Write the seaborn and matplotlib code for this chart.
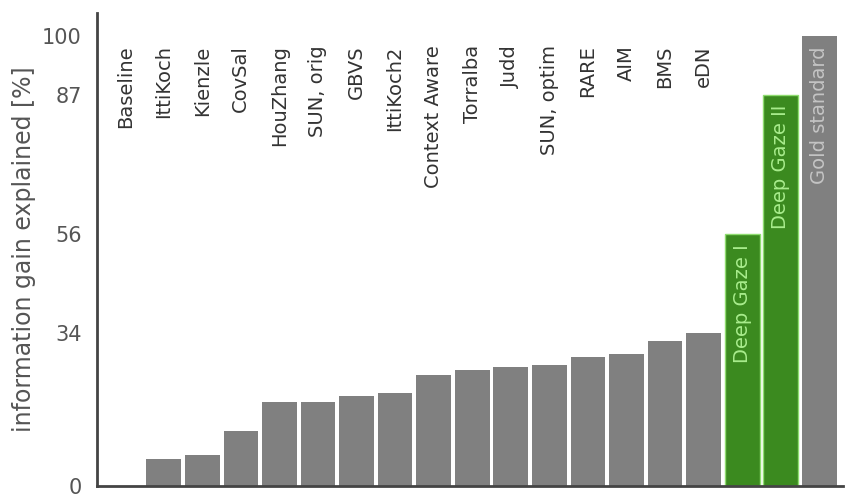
import matplotlib
matplotlib.use("Agg")
import matplotlib.pyplot as plt
import seaborn as sns
import pandas as pd

models = ["Baseline", "IttiKoch", "Kienzle", "CovSal", "HouZhang", "SUN, orig",
          "GBVS", "IttiKoch2", "Context Aware", "Torralba", "Judd", "SUN, optim",
          "RARE", "AIM", "BMS", "eDN", "Deep Gaze I", "Deep Gaze II", "Gold standard"]
gain = [0.0, 5.9, 7.0, 12.3, 18.7, 18.7, 20.0, 20.6, 24.6, 25.8, 26.4, 27.0,
        28.8, 29.4, 32.3, 34.0, 56.0, 87.0, 100.0]
ytick_values = [0, 34, 56, 87, 100]
deep_models = ["Deep Gaze I", "Deep Gaze II"]
inside_labels = ["Deep Gaze I", "Deep Gaze II", "Gold standard"]

GRAY = "#808080"
GREEN = "#3b8a1f"
palette = {m: (GREEN if m in deep_models else GRAY) for m in models}

df = pd.DataFrame({"model": models, "gain": gain})

sns.set_style("white")
plt.rcParams["font.family"] = ["DejaVu Sans"]

fig = plt.figure(figsize=(8.46, 4.98), dpi=100)
ax = fig.add_axes([0.1147, 0.0241, 0.882, 0.9498])

sns.barplot(data=df, x="model", y="gain", hue="model", palette=palette,
            width=0.9, legend=False, ax=ax, saturation=1)

for patch, m in zip(ax.patches, models):
    if m in deep_models:
        patch.set_edgecolor("#8fdc70")
        patch.set_linewidth(1.0)
    else:
        patch.set_linewidth(0)

ax.set_xlim(-0.73, 18.62)
ax.set_ylim(0, 105.2)

# model names: above the short bars, inside the tall ones
for i, (m, v) in enumerate(zip(models, gain)):
    if m in inside_labels:
        col = "#a8ec8c" if m in deep_models else "#c4c4c4"
        ax.annotate(m, xy=(i, v), xytext=(0, -7), textcoords="offset points",
                    rotation=90, ha="center", va="top", fontsize=14, color=col)
    else:
        ax.text(i, 98.0, m, rotation=90, ha="center", va="top",
                fontsize=14, color="#333333")

ax.set_xticks([])
ax.set_xlabel("")
ax.set_yticks(ytick_values)
ax.set_yticklabels([str(v) for v in ytick_values])
ax.tick_params(axis="y", length=0, pad=11, labelsize=15, labelcolor="#555555")
ax.set_ylabel("information gain explained [%]", fontsize=17, color="#555555",
              labelpad=4)

sns.despine(ax=ax)
for side in ("left", "bottom"):
    ax.spines[side].set_color("#444444")
    ax.spines[side].set_linewidth(2)

fig.savefig("out.png", dpi=100)
